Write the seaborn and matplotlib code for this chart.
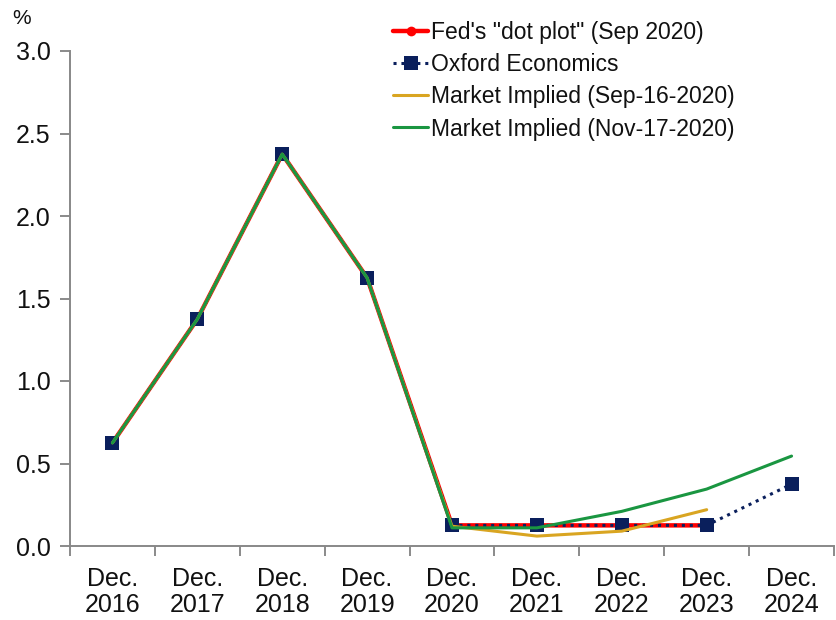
import matplotlib
matplotlib.use("Agg")
import matplotlib.pyplot as plt
import seaborn as sns
import pandas as pd
import numpy as np

sns.set_theme(style="white")
plt.rcParams["font.family"] = ["Liberation Sans", "DejaVu Sans"]

categories = ["Dec.\n2016", "Dec.\n2017", "Dec.\n2018", "Dec.\n2019", "Dec.\n2020",
              "Dec.\n2021", "Dec.\n2022", "Dec.\n2023", "Dec.\n2024"]

fed_dots = [0.625, 1.375, 2.375, 1.625, 0.125, 0.125, 0.125, 0.125, None]
oxford = [0.625, 1.375, 2.375, 1.625, 0.125, 0.125, 0.125, 0.125, 0.375]
market_sep16 = [0.625, 1.375, 2.375, 1.625, 0.12, 0.06, 0.09, 0.22, None]
market_nov17 = [0.625, 1.375, 2.375, 1.625, 0.11, 0.11, 0.21, 0.345, 0.545]

x = np.arange(len(categories))

fig = plt.figure(figsize=(8.36, 6.2), dpi=100)
ax = fig.add_axes([70 / 836, 1 - 546 / 620, 764 / 836, (546 - 51) / 620])

def frame(vals):
    return pd.DataFrame({"x": x, "y": pd.array(vals, dtype="Float64")}).dropna()

sns.lineplot(data=frame(fed_dots), x="x", y="y", ax=ax, color="#ff0000", lw=3.2,
             marker="o", markersize=7, markeredgewidth=0,
             label="Fed's \"dot plot\" (Sep 2020)")
sns.lineplot(data=frame(oxford), x="x", y="y", ax=ax, color="#0a1f5c", lw=2.2,
             linestyle=(0, (1, 1.6)), marker="s", markersize=10, markeredgewidth=0,
             label="Oxford Economics")
sns.lineplot(data=frame(market_sep16), x="x", y="y", ax=ax, color="#d9a521", lw=2.2,
             label="Market Implied (Sep-16-2020)")
sns.lineplot(data=frame(market_nov17), x="x", y="y", ax=ax, color="#1a9641", lw=2.2,
             label="Market Implied (Nov-17-2020)")

ax.set_xlim(-0.5, len(categories) - 0.5)
ax.set_ylim(0, 3.0)
ax.set_yticks(np.arange(0, 3.01, 0.5))
ax.set_yticklabels([f"{v:.1f}" for v in np.arange(0, 3.01, 0.5)])

# boundary ticks between categories, labels centred on each category
ax.set_xticks(np.arange(-0.5, len(categories), 1.0))
ax.set_xticklabels([])
ax.set_xticks(x, minor=True)
ax.set_xticklabels(categories, minor=True)
for t in ax.get_xticklabels(minor=True):
    t.set_linespacing(1.12)
ax.tick_params(axis="x", which="major", direction="out", length=7, width=1.2,
               color="#777777", bottom=True)
ax.tick_params(axis="x", which="minor", length=0, pad=15, labelsize=18,
               labelcolor="#111111")
ax.tick_params(axis="y", direction="out", length=7, width=1.2, color="#777777",
               left=True, labelsize=18, labelcolor="#111111", pad=7)

for side in ("top", "right"):
    ax.spines[side].set_visible(False)
for side in ("left", "bottom"):
    ax.spines[side].set_color("#888888")
    ax.spines[side].set_linewidth(1.4)

ax.set_xlabel("")
ax.set_ylabel("")
fig.text(12 / 836, 1 - 18 / 620, "%", fontsize=15, color="#111111", va="center")

leg = ax.legend(loc="upper left", bbox_to_anchor=(0.4226, 1.0606),
                bbox_transform=ax.transAxes, frameon=False, fontsize=16.5,
                handlelength=1.55, handletextpad=0.12, labelspacing=0.4,
                borderaxespad=0, borderpad=0)
for t in leg.get_texts():
    t.set_color("#111111")

fig.savefig("out.png", dpi=100)
